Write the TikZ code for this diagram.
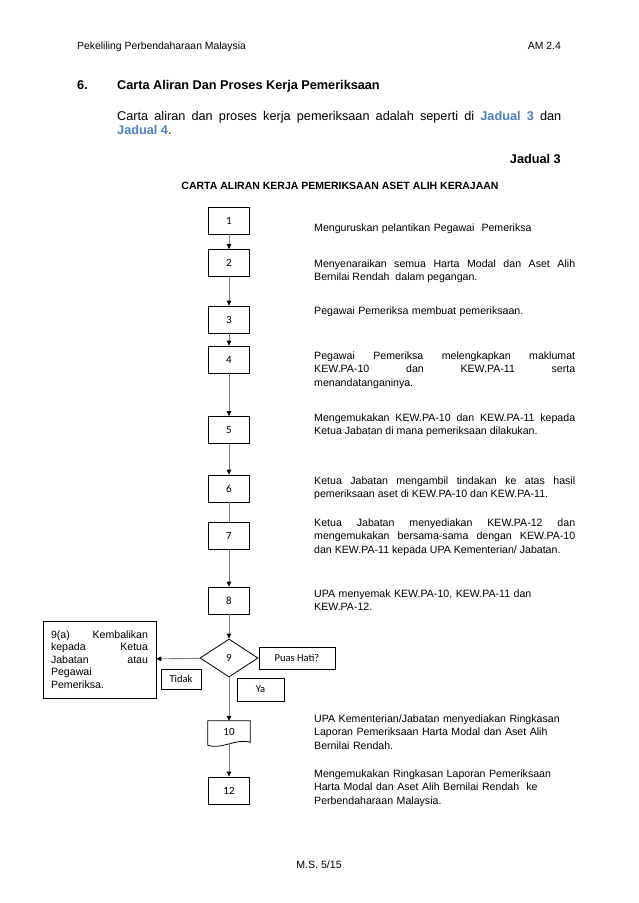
\documentclass[tikz,border=0pt]{standalone}
\usepackage{fontspec}
\setmainfont{Liberation Sans}
\newfontfamily\carlito{Carlito}
\usepackage{xcolor}
\usetikzlibrary{arrows.meta,shapes.geometric}
\definecolor{jadualblue}{RGB}{79,129,189}

\begin{document}
\begin{tikzpicture}[x=1pt, y=-1pt,
    box/.style={draw, line width=0.8pt, minimum width=41pt, minimum height=27pt, inner sep=0pt, font=\carlito\fontsize{11}{13}\selectfont},
    lbl/.style={draw, line width=0.6pt, inner sep=0pt, font=\carlito\fontsize{10.5}{12}\selectfont},
    desc/.style={anchor=base west, inner sep=0pt, text width=261pt, align=justify, font=\fontsize{10.6}{13.5}\selectfont},
    descl/.style={desc, align=left},
    flow/.style={draw=black!50, line width=0.9pt, -{Triangle[black, length=5pt, width=4.5pt]}}]
        \useasboundingbox (0,0) rectangle (638,903);
        \node[anchor=base west, inner sep=0pt, font=\fontsize{10.4}{12}\selectfont] (hdr) at (77,49) {Pekeliling Perbendaharaan Malaysia};
        \node[anchor=base east, inner sep=0pt, font=\fontsize{10.4}{12}\selectfont] (am) at (561,49) {AM 2.4};
        \node[anchor=base west, inner sep=0pt, font=\bfseries\fontsize{12.7}{14}\selectfont] (sec) at (77,89) {6.};
        \node[anchor=base west, inner sep=0pt, font=\bfseries\fontsize{12.7}{14}\selectfont] (sectitle) at (117,89) {Carta Aliran Dan Proses Kerja Pemeriksaan};
        \node[anchor=base west, inner sep=0pt, text width=444pt, align=justify, font=\fontsize{12.7}{13.5}\selectfont] (para) at (117,120.5)
            {Carta aliran dan proses kerja pemeriksaan adalah seperti di \textcolor{jadualblue}{\textbf{Jadual 3}} dan\linebreak \textcolor{jadualblue}{\textbf{Jadual 4}}.};
        \node[anchor=base east, inner sep=0pt, font=\bfseries\fontsize{12.7}{14}\selectfont] (jadual) at (561,163) {Jadual 3};
        \node[anchor=base, inner sep=0pt, font=\bfseries\fontsize{10.5}{12}\selectfont] (charttitle) at (340,189) {CARTA ALIRAN KERJA PEMERIKSAAN ASET ALIH KERAJAAN};

        \node[box] (b1) at (229,220.5) {1};
        \node[box] (b2) at (229,263) {2};
        \node[box] (b3) at (229,319.5) {3};
        \node[box] (b4) at (229,359.5) {4};
        \node[box] (b5) at (229,430) {5};
        \node[box] (b6) at (229,488.5) {6};
        \node[box] (b7) at (229,536) {7};
        \node[box] (b8) at (229,600.5) {8};
        \node[diamond, draw, line width=0.8pt, minimum width=58pt, minimum height=38pt, aspect=1.5, inner sep=0pt, font=\carlito\fontsize{11}{13}\selectfont] (d9) at (229,658) {9};
        \node[minimum width=42pt, minimum height=22pt, inner sep=0pt, font=\carlito\fontsize{11}{13}\selectfont] (b10) at (229,732) {10};
        \draw[line width=0.8pt] (b10.south east) -- (b10.north east) -- (b10.north west) -- ([yshift=-2pt]b10.south west)
            .. controls +(13,5) and +(-15,-4) .. ([yshift=1pt]b10.south east) -- (b10.south east);
        \node[box] (b12) at (229,790.5) {12};

        \node[draw, line width=0.8pt, minimum width=113pt, minimum height=77pt, inner sep=0pt, text width=97pt, align=justify, font=\fontsize{10.6}{12.5}\selectfont] (b9a) at (99.5,659.5)
            {9(a) Kembalikan\linebreak kepada Ketua\linebreak Jabatan atau\linebreak Pegawai\\ Pemeriksa.};
        \node[lbl, minimum width=76pt, minimum height=22pt] (puas) at (297,658) {Puas Hati?};
        \node[lbl, minimum width=40pt, minimum height=20pt] (tidak) at (181,679) {Tidak};
        \node[lbl, minimum width=47pt, minimum height=23pt] (ya) at (260.5,689.5) {Ya};

        \draw[flow] (b1) -- (b2);
        \draw[flow] (b2) -- (b3);
        \draw[flow] (b3) -- (b4);
        \draw[flow] (b4) -- (b5);
        \draw[flow] (b5) -- (b6);
        \draw[draw=black!50, line width=0.9pt] (b6) -- (b7);
        \draw[flow] (b7) -- (b8);
        \draw[flow] (b8) -- (d9);
        \draw[flow] (d9) -- (b9a);
        \draw[flow] (d9) -- (b10);
        \draw[flow] (b10) -- (b12);

        \node[descl] (t1) at (314,231) {Menguruskan pelantikan Pegawai\ \ Pemeriksa};
        \node[desc] (t2) at (314,267) {Menyenaraikan semua Harta Modal dan Aset Alih\linebreak Bernilai Rendah\ \ dalam pegangan.};
        \node[descl] (t3) at (314,314) {Pegawai Pemeriksa membuat pemeriksaan.};
        \node[desc] (t4) at (314,359) {Pegawai Pemeriksa melengkapkan maklumat\linebreak KEW.PA-10 dan KEW.PA-11 serta\linebreak menandatanganinya.};
        \node[desc] (t5) at (314,421) {Mengemukakan KEW.PA-10 dan KEW.PA-11 kepada\linebreak Ketua Jabatan di mana pemeriksaan dilakukan.};
        \node[desc] (t6) at (314,484) {Ketua Jabatan mengambil tindakan ke atas hasil\linebreak pemeriksaan aset di KEW.PA-10 dan KEW.PA-11.};
        \node[desc] (t7) at (314,526) {Ketua Jabatan menyediakan KEW.PA-12 dan\linebreak mengemukakan bersama-sama dengan KEW.PA-10\linebreak dan KEW.PA-11 kepada UPA Kementerian/ Jabatan.};
        \node[descl] (t8) at (314,597) {UPA menyemak KEW.PA-10, KEW.PA-11 dan\\ KEW.PA-12.};
        \node[descl] (t10) at (314,722) {UPA Kementerian/Jabatan menyediakan Ringkasan\\ Laporan Pemeriksaan Harta Modal dan Aset Alih\\ Bernilai Rendah.};
        \node[descl] (t12) at (314,777) {Mengemukakan Ringkasan Laporan Pemeriksaan\\ Harta Modal dan Aset Alih Bernilai Rendah\ \ ke\\ Perbendaharaan Malaysia.};

        \node[anchor=base, inner sep=0pt, font=\fontsize{10.6}{12}\selectfont] (foot) at (319,868) {M.S. 5/15};
    \end{tikzpicture}
\end{document}
